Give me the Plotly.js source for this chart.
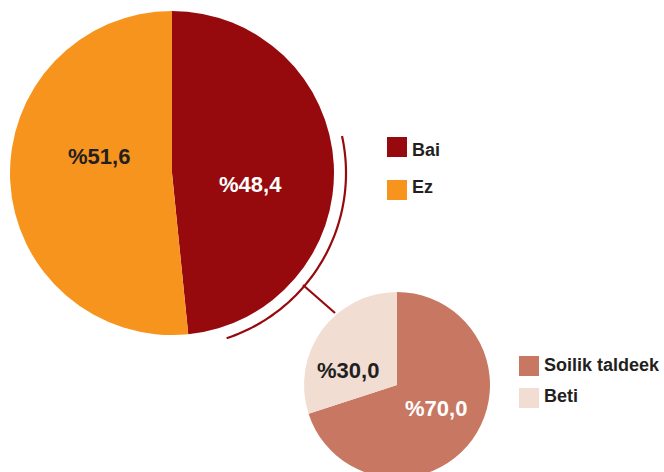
<!DOCTYPE html>
<html>
<head>
<meta charset="utf-8">
<script src="https://cdn.plot.ly/plotly-3.0.1.min.js"></script>
<style>
  html, body { margin: 0; padding: 0; overflow: hidden; background: #fff; }
  #chart { width: 664px; height: 492px; }
</style>
</head>
<body>
<div id="chart"></div>
<script>
// ---- data ----
const mainLabels = ["Bai", "Ez"];
const mainValues = [48.4, 51.6];
const mainColors = ["#960a0d", "#f7941e"];
const mainTextColors = ["#ffffff", "#231f20"];

const subLabels = ["Soilik taldeek", "Beti"];
const subValues = [70.0, 30.0];
const subColors = ["#c87862", "#f2ddd3"];
const subTextColors = ["#ffffff", "#231f20"];

// ---- layout geometry (pixels) ----
const W = 664, H = 492;
const px = x => x / W;
const py = y => 1 - y / H;

const mainPie = { cx: 172, cy: 173, r: 162 };
const subPie = { cx: 397, cy: 385, r: 93 };

// label positions (pixel centres) for the slice percentages
const mainLabelPos = [[250, 185], [99, 156]];
const subLabelPos = [[436, 408], [348, 370]];

// legend positions (pixel): square left/top/step, text centre/step
const mainLegend = { x: 387, y0: 137, step: 43, ty0: 149.5, tstep: 37.5 };
const subLegend = { x: 519, y0: 356, step: 32, ty0: 365, tstep: 31 };

const fmt = v => "%" + v.toFixed(1).replace(".", ",");
const FONT = "Liberation Sans, Arial, sans-serif";

function dom(p) {
  return { x: [px(p.cx - p.r), px(p.cx + p.r)], y: [py(p.cy + p.r), py(p.cy - p.r)] };
}

const traces = [
  {
    type: "pie", labels: mainLabels, values: mainValues, sort: false,
    direction: "clockwise", rotation: 0,
    marker: { colors: mainColors, line: { width: 0 } },
    textinfo: "none", hoverinfo: "none", domain: dom(mainPie), showlegend: false
  },
  {
    type: "pie", labels: subLabels, values: subValues, sort: false,
    direction: "clockwise", rotation: 0,
    marker: { colors: subColors, line: { width: 0 } },
    textinfo: "none", hoverinfo: "none", domain: dom(subPie), showlegend: false
  }
];

const annotations = [];
const shapes = [];

function addLabels(values, pos, colors) {
  values.forEach((v, i) => {
    annotations.push({
      xref: "paper", yref: "paper", x: px(pos[i][0]), y: py(pos[i][1]),
      xanchor: "center", yanchor: "middle", showarrow: false,
      text: "<b>" + fmt(v) + "</b>",
      font: { family: FONT, size: 22, color: colors[i] }
    });
  });
}
addLabels(mainValues, mainLabelPos, mainTextColors);
addLabels(subValues, subLabelPos, subTextColors);

function addLegend(labels, colors, L) {
  labels.forEach((lab, i) => {
    const top = L.y0 + i * L.step;
    shapes.push({
      type: "rect", xref: "paper", yref: "paper",
      x0: px(L.x), x1: px(L.x + 20), y0: py(top + 20), y1: py(top),
      fillcolor: colors[i], line: { width: 0 }
    });
    annotations.push({
      xref: "paper", yref: "paper", x: px(L.x + 23), y: py(L.ty0 + i * L.tstep),
      xanchor: "left", yanchor: "middle", showarrow: false,
      text: "<b>" + lab + "</b>",
      font: { family: FONT, size: 18, color: "#231f20" }
    });
  });
}
addLegend(mainLabels, mainColors, mainLegend);
addLegend(subLabels, subColors, subLegend);

// decorative arc around the "Bai" slice and connector to the sub pie
const arcR = 174, a0 = 77.7, a1 = 162.5;
let path = "";
for (let a = a0; a <= a1 + 0.001; a += 1) {
  const t = a * Math.PI / 180;
  const x = mainPie.cx + arcR * Math.sin(t);
  const y = mainPie.cy - arcR * Math.cos(t);
  path += (path ? " L" : "M") + px(x).toFixed(5) + "," + py(y).toFixed(5);
}
shapes.push({ type: "path", xref: "paper", yref: "paper", path: path,
  line: { color: "#960a0d", width: 2.2 } });
shapes.push({ type: "line", xref: "paper", yref: "paper",
  x0: px(303), y0: py(285), x1: px(335), y1: py(313),
  line: { color: "#960a0d", width: 2.2 } });

const layout = {
  width: W, height: H,
  margin: { l: 0, r: 0, t: 0, b: 0 },
  paper_bgcolor: "#ffffff", plot_bgcolor: "#ffffff",
  showlegend: false,
  annotations: annotations,
  shapes: shapes,
  font: { family: FONT }
};

Plotly.newPlot("chart", traces, layout, { displayModeBar: false, staticPlot: true });
</script>
</body>
</html>
